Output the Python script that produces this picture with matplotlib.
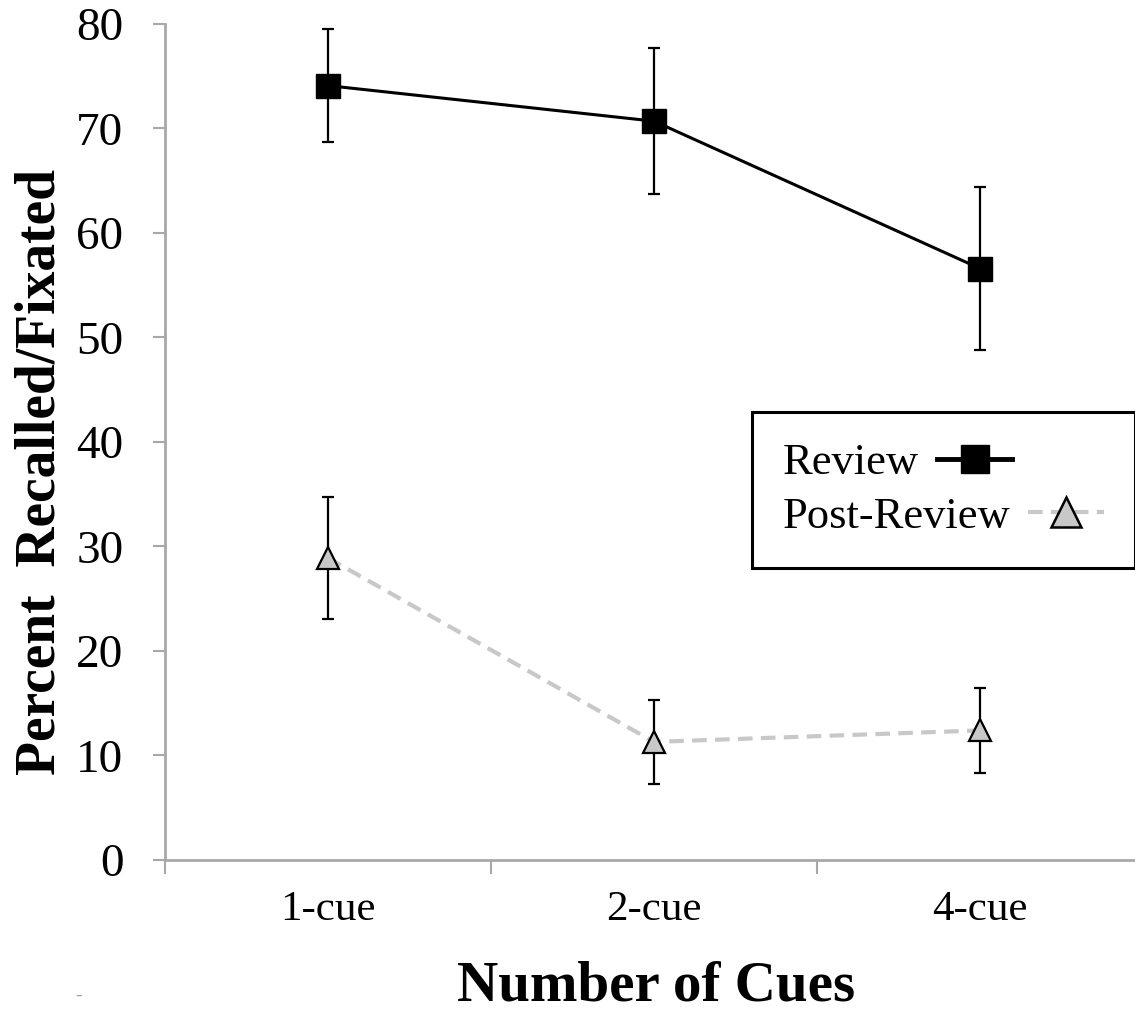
import matplotlib
matplotlib.use('Agg')
import matplotlib.pyplot as plt
from matplotlib.lines import Line2D
from matplotlib.ticker import FixedLocator, NullFormatter

plt.rcParams['font.family'] = ['Liberation Serif', 'DejaVu Serif']

# datos
categorias = ['1-cue', '2-cue', '4-cue']
review = [74.1, 70.7, 56.6]
review_err = [5.4, 7.0, 7.8]
post_review = [28.9, 11.3, 12.4]
post_review_err = [5.8, 4.0, 4.1]
yticks = [0, 10, 20, 30, 40, 50, 60, 70, 80]

GRIS_EJE = '#a8a8a8'
GRIS_LINEA = '#c8c8c8'
GUIONES = (0, (3.5, 2))

fig = plt.figure(figsize=(11.35, 10.13), dpi=100)
ax = fig.add_axes([0.14537, 0.15104, 0.8617, 0.8253])

x = list(range(1, len(categorias) + 1))

ax.errorbar(x, review, yerr=review_err, color='black', lw=2.2,
            marker='s', markersize=17, markerfacecolor='black',
            markeredgecolor='black', ecolor='black', elinewidth=1.6,
            capsize=4.3, capthick=1.6, zorder=3)
ax.errorbar(x, post_review, yerr=post_review_err, color=GRIS_LINEA, lw=3,
            linestyle=GUIONES, marker='^', markersize=16,
            markerfacecolor=GRIS_LINEA, markeredgecolor='black',
            markeredgewidth=1.6, ecolor='black', elinewidth=1.6,
            capsize=4.3, capthick=1.6, zorder=3)

ax.set_xlim(0.5, len(categorias) + 0.5)
ax.set_ylim(0, 80)
ax.set_yticks(yticks)

# ticks del eje x entre categorias, etiquetas centradas
ax.xaxis.set_major_locator(FixedLocator([i + 0.5 for i in range(len(categorias) + 1)]))
ax.xaxis.set_major_formatter(NullFormatter())
ax.xaxis.set_minor_locator(FixedLocator(x))
ax.set_xticklabels(categorias, minor=True)
ax.tick_params(axis='x', which='major', direction='out', length=10,
               width=1.5, color=GRIS_EJE)
ax.tick_params(axis='x', which='minor', length=0, pad=22, labelsize=31)
ax.tick_params(axis='y', direction='out', length=9, width=1.5,
               color=GRIS_EJE, pad=21, labelsize=34)

for lado in ['top', 'right']:
    ax.spines[lado].set_visible(False)
for lado in ['left', 'bottom']:
    ax.spines[lado].set_color(GRIS_EJE)
    ax.spines[lado].set_linewidth(2)

fig.text(0.578, 0.012, 'Number of Cues', ha='center', va='baseline',
         fontsize=41, fontweight='bold')
fig.text(0.036, 0.534, 'Percent  Recalled/Fixated', ha='center', va='center',
         rotation=90, fontsize=40, fontweight='bold')
fig.text(0.066, 0.012, '-', color='#999999', fontsize=14)

# leyenda sin barras de error
h_review = Line2D([], [], color='black', lw=3.5, marker='s', markersize=20,
                  markerfacecolor='black', markeredgecolor='black')
h_post = Line2D([], [], color=GRIS_LINEA, lw=3, linestyle=GUIONES,
                marker='^', markersize=21, markerfacecolor=GRIS_LINEA,
                markeredgecolor='black', markeredgewidth=1.8)
leg = ax.legend([h_review, h_post], ['Review', 'Post-Review'],
                loc='upper left', bbox_to_anchor=(0.600, 0.536),
                borderaxespad=0, markerfirst=False, fontsize=32,
                frameon=True, fancybox=False, framealpha=1,
                edgecolor='black', handlelength=1.7, handletextpad=0.4,
                labelspacing=0.3, borderpad=0.7)
leg.get_frame().set_linewidth(2.2)
# que el simbolo siga al texto, como en Excel
try:
    for col in leg._legend_handle_box.get_children():
        col.align = 'left'
except AttributeError:
    pass

fig.savefig('out.png', dpi=100)
